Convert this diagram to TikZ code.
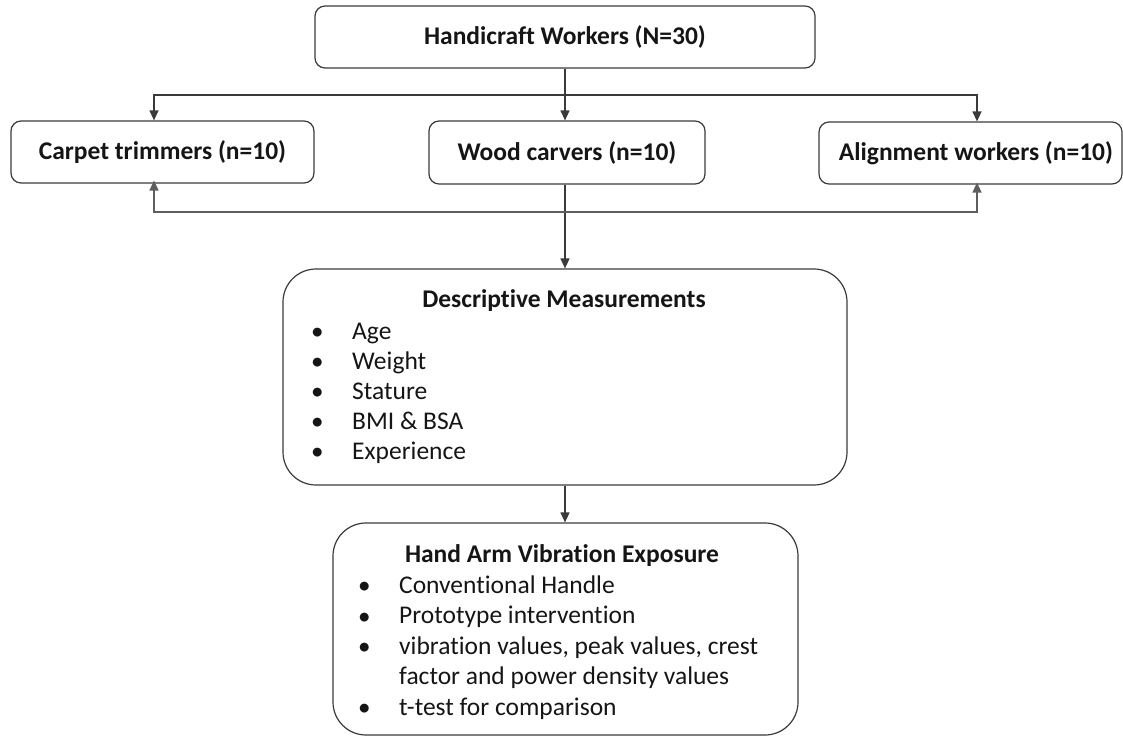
\documentclass[tikz,border=0pt]{standalone}
\usepackage{fontspec}
\setmainfont{Carlito}[Ligatures=NoCommon]
\usetikzlibrary{arrows.meta}
\definecolor{linegray}{HTML}{3A3A3A}
\definecolor{linegray2}{HTML}{5E5E5E}
\definecolor{txt}{HTML}{151515}
\newcommand{\bul}{\makebox[40pt][l]{\raisebox{0.5pt}{\fontsize{21}{21}\selectfont\bfseries•}}}
\begin{document}
\begin{tikzpicture}[x=1pt,y=-1pt,
  box/.style={draw=linegray, line width=1.2pt, rounded corners=10pt, inner sep=0pt,
    text=txt, font=\fontsize{25.5}{30}\selectfont\bfseries},
  bigbox/.style={draw=linegray, line width=1.2pt, rounded corners=33pt, inner sep=0pt},
  ttl/.style={inner sep=0pt, text=txt, font=\fontsize{25.5}{30}\selectfont\bfseries, anchor=base},
  lst/.style={inner sep=0pt, text=txt, anchor=base west},
  conn/.style={draw=linegray, line width=1.2pt, -{Triangle[length=10pt,width=9pt]}},
  conn2/.style={draw=linegray2, line width=1.6pt, -{Triangle[length=10pt,width=9pt]}},
]
\useasboundingbox (0,0) rectangle (1123,736);

% boxes
\node[box, minimum width=500pt, minimum height=62pt] (top) at (565,37) {Handicraft Workers (N=30)};
\node[box, minimum width=303pt, minimum height=62pt] (carpet) at (162.5,152) {Carpet trimmers (n=10)};
\node[box, minimum width=276pt, minimum height=63pt] (wood) at (567,152.5) {Wood carvers (n=10)};
\node[box, minimum width=303pt, minimum height=62pt] (align) at (970.5,153) {\hspace*{11pt}Alignment workers (n=10)};

\node[bigbox, minimum width=564pt, minimum height=216pt] (desc) at (565,377) {};
\node[ttl] (desctitle) at (564,307) {Descriptive Measurements};
\node[lst] (desclist) at (312,339) {\parbox[t]{480pt}{\fontsize{25.5}{30}\selectfont\raggedright
  \bul Age\\
  \bul Weight\\
  \bul Stature\\
  \bul BMI \& BSA\\
  \bul Experience}};

\node[bigbox, minimum width=465pt, minimum height=212pt] (hand) at (565.5,629) {};
\node[ttl] (handtitle) at (562,562) {Hand Arm Vibration Exposure};
\node[lst] (handlist) at (359,593) {\parbox[t]{430pt}{\fontsize{25.5}{30.5}\selectfont\raggedright
  \bul Conventional Handle\\
  \bul Prototype intervention\\
  \bul vibration values, peak values, crest\\
  \hspace*{40pt}factor and power density values\\
  \bul t-test for comparison}};

% connectors
\coordinate (hl) at (154,95);
\coordinate (hr) at (977,95);
\coordinate (bl) at (154,212);
\coordinate (br) at (977,212);

\draw[conn] (top.south) -- (top.south |- wood.north);
\draw[conn] (hr) -- (hl) -- (hl |- carpet.north);
\draw[conn] (hl) -- (hr) -- (hr |- align.north);

\draw[conn] (desc.north |- wood.south) -- (desc.north);
\draw[conn2] (br) -- (bl) -- ([yshift=3pt]bl |- carpet.south);
\draw[conn2] (bl) -- (br) -- ([yshift=2pt]br |- align.south);

\draw[conn] (desc.south) -- (desc.south |- hand.north);
\end{tikzpicture}
\end{document}
